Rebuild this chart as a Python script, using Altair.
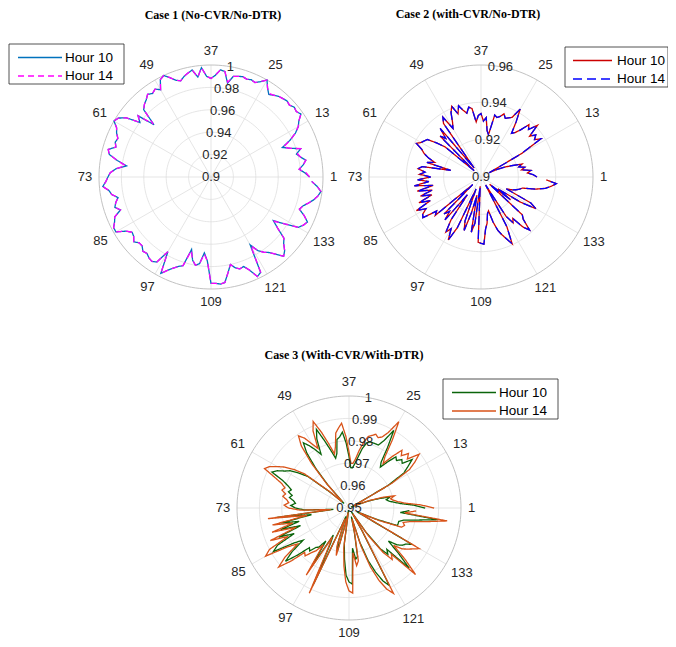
import altair as alt
import pandas as pd
import numpy as np

W, H = 660, 631
nodes = list(range(1, 145))
series_names = ["Hour 10", "Hour 14"]
theta_labels = ["1", "13", "25", "37", "49", "61", "73", "85", "97", "109", "121", "133"]
theta_degs = [0, 30, 60, 90, 120, 150, 180, 210, 240, 270, 300, 330]

c1_rticks = [0.9, 0.92, 0.94, 0.96, 0.98, 1.0]
c1_rlabels = ["0.9", "0.92", "0.94", "0.96", "0.98", "1"]
c2_rticks = [0.9, 0.92, 0.94, 0.96]
c2_rlabels = ["0.9", "0.92", "0.94", "0.96"]
c3_rticks = [0.95, 0.96, 0.97, 0.98, 0.99, 1.0]
c3_rlabels = ["0.95", "0.96", "0.97", "0.98", "0.99", "1"]

titles = ["Case 1 (No-CVR/No-DTR)", "Case 2 (with-CVR/No-DTR)", "Case 3 (With-CVR/With-DTR)"]

case1_h10 = [
0.988, 0.984, 0.979, 0.983, 0.986, 0.982, 0.979, 0.984, 0.975, 0.969, 0.978, 0.985,
0.990, 0.993, 0.998, 0.996, 0.997, 0.995, 0.996, 0.995, 0.994, 0.992, 0.990, 0.994,
1.000, 0.996, 0.993, 0.994, 0.993, 0.994, 0.993, 0.992, 0.985, 0.995, 0.996, 0.991,
0.988, 0.990, 0.998, 0.990, 0.997, 0.995, 0.993, 0.990, 0.992, 0.996, 1.000, 0.998,
0.990, 0.993, 0.991, 0.993, 0.990, 0.988, 0.985, 0.969, 0.985, 0.980, 0.992, 0.998,
1.000, 0.995, 0.993, 0.990, 0.991, 0.989, 0.995, 0.993, 0.985, 0.976, 0.985, 0.990,
0.992, 0.994, 0.997, 0.992, 0.990, 0.985, 0.988, 0.990, 0.986, 0.993, 0.995, 0.998,
0.998, 0.990, 0.986, 0.987, 0.990, 0.987, 0.987, 0.990, 0.989, 0.991, 0.992, 0.990,
0.977, 0.997, 0.992, 0.988, 0.985, 0.983, 0.967, 0.976, 0.980, 0.978, 0.968, 0.975,
0.995, 0.995, 0.996, 0.995, 0.987, 0.980, 0.984, 0.986, 0.985, 0.990, 0.998, 0.996,
0.970, 0.978, 0.982, 0.985, 0.990, 0.996, 0.993, 0.988, 0.985, 0.975, 0.968, 0.978,
0.990, 0.993, 0.995, 0.990, 0.984, 0.986, 0.990, 0.994, 0.997, 0.999, 0.995, 0.990]

case1_h14 = [
0.988, 0.985, 0.979, 0.983, 0.986, 0.982, 0.980, 0.984, 0.975, 0.970, 0.978, 0.985,
0.990, 0.993, 0.998, 0.996, 0.997, 0.995, 0.996, 0.995, 0.994, 0.992, 0.991, 0.994,
1.000, 0.996, 0.993, 0.994, 0.993, 0.994, 0.993, 0.992, 0.986, 0.995, 0.996, 0.991,
0.988, 0.990, 0.998, 0.990, 0.997, 0.995, 0.993, 0.990, 0.992, 0.996, 1.000, 0.998,
0.990, 0.993, 0.991, 0.993, 0.990, 0.988, 0.985, 0.970, 0.985, 0.980, 0.992, 0.998,
1.000, 0.995, 0.993, 0.990, 0.991, 0.989, 0.995, 0.993, 0.985, 0.977, 0.985, 0.990,
0.992, 0.994, 0.997, 0.992, 0.990, 0.985, 0.988, 0.990, 0.986, 0.993, 0.995, 0.998,
0.998, 0.990, 0.986, 0.987, 0.990, 0.987, 0.987, 0.990, 0.989, 0.991, 0.992, 0.990,
0.977, 0.997, 0.992, 0.988, 0.985, 0.983, 0.968, 0.976, 0.980, 0.978, 0.969, 0.975,
0.995, 0.995, 0.996, 0.995, 0.987, 0.980, 0.984, 0.986, 0.985, 0.990, 0.998, 0.996,
0.971, 0.978, 0.982, 0.985, 0.990, 0.996, 0.993, 0.988, 0.985, 0.975, 0.969, 0.978,
0.990, 0.993, 0.995, 0.990, 0.984, 0.986, 0.990, 0.994, 0.997, 0.999, 0.995, 0.990]

case2_h10 = [
0.930, 0.928, 0.925, 0.927, 0.922, 0.924, 0.921, 0.923, 0.918, 0.914, 0.910, 0.905,
0.925, 0.938, 0.935, 0.937, 0.934, 0.941, 0.936, 0.938, 0.933, 0.930, 0.9285, 0.935,
0.942, 0.936, 0.935, 0.934, 0.936, 0.934, 0.933, 0.934, 0.923, 0.925, 0.932, 0.930,
0.934, 0.933, 0.9296, 0.937, 0.938, 0.935, 0.937, 0.940, 0.936, 0.941, 0.938, 0.933,
0.930, 0.938, 0.935, 0.906, 0.934, 0.928, 0.931, 0.905, 0.925, 0.930, 0.935, 0.936,
0.937, 0.939, 0.935, 0.933, 0.930, 0.926, 0.930, 0.9166, 0.932, 0.934, 0.930, 0.933,
0.927, 0.934, 0.928, 0.936, 0.926, 0.935, 0.927, 0.934, 0.928, 0.936, 0.930, 0.939,
0.934, 0.937, 0.938, 0.930, 0.932, 0.906, 0.928, 0.925, 0.930, 0.912, 0.928, 0.935,
0.932, 0.938, 0.930, 0.907, 0.925, 0.930, 0.920, 0.910, 0.930, 0.925, 0.905, 0.935,
0.9355, 0.936, 0.928, 0.925, 0.920, 0.9186, 0.925, 0.930, 0.933, 0.936, 0.9395, 0.930,
0.905, 0.925, 0.930, 0.928, 0.935, 0.9385, 0.932, 0.930, 0.906, 0.920, 0.911, 0.925,
0.934, 0.930, 0.915, 0.918, 0.920, 0.9216, 0.923, 0.930, 0.935, 0.938, 0.9405, 0.935]

case2_h14 = [
0.930, 0.928, 0.925, 0.927, 0.922, 0.924, 0.921, 0.923, 0.918, 0.914, 0.910, 0.905,
0.925, 0.938, 0.935, 0.937, 0.934, 0.941, 0.936, 0.938, 0.933, 0.930, 0.9285, 0.935,
0.942, 0.936, 0.935, 0.934, 0.936, 0.934, 0.933, 0.934, 0.923, 0.925, 0.932, 0.930,
0.934, 0.933, 0.9296, 0.937, 0.938, 0.935, 0.937, 0.940, 0.936, 0.941, 0.938, 0.933,
0.930, 0.938, 0.935, 0.906, 0.934, 0.928, 0.931, 0.905, 0.925, 0.930, 0.935, 0.936,
0.937, 0.939, 0.935, 0.933, 0.930, 0.926, 0.930, 0.9166, 0.932, 0.934, 0.930, 0.933,
0.927, 0.934, 0.928, 0.936, 0.926, 0.935, 0.927, 0.934, 0.928, 0.936, 0.930, 0.939,
0.934, 0.937, 0.938, 0.930, 0.932, 0.906, 0.928, 0.925, 0.930, 0.912, 0.928, 0.935,
0.932, 0.938, 0.930, 0.907, 0.925, 0.930, 0.920, 0.910, 0.930, 0.925, 0.905, 0.935,
0.9355, 0.936, 0.928, 0.925, 0.920, 0.9186, 0.925, 0.930, 0.933, 0.936, 0.9395, 0.930,
0.905, 0.925, 0.930, 0.928, 0.935, 0.9385, 0.932, 0.930, 0.906, 0.920, 0.911, 0.925,
0.934, 0.930, 0.915, 0.918, 0.920, 0.9216, 0.923, 0.930, 0.935, 0.938, 0.9405, 0.935]

case3_h10 = [
0.984, 0.979, 0.973, 0.970, 0.968, 0.967, 0.969, 0.964, 0.959, 0.952, 0.951, 0.954,
0.970, 0.979, 0.982, 0.9855, 0.981, 0.982, 0.980, 0.981, 0.977, 0.973, 0.975, 0.982,
0.990, 0.984, 0.981, 0.981, 0.981, 0.981, 0.980, 0.977, 0.973, 0.970, 0.968, 0.968,
0.973, 0.979, 0.984, 0.982, 0.981, 0.975, 0.973, 0.977, 0.982, 0.988, 0.984, 0.977,
0.980, 0.983, 0.9855, 0.981, 0.973, 0.964, 0.955, 0.953, 0.961, 0.973, 0.977, 0.981,
0.983, 0.986, 0.988, 0.982, 0.979, 0.977, 0.978, 0.976, 0.977, 0.975, 0.974, 0.976,
0.974, 0.970, 0.957, 0.9825, 0.967, 0.981, 0.973, 0.982, 0.973, 0.984, 0.977, 0.986,
0.989, 0.979, 0.975, 0.982, 0.987, 0.981, 0.975, 0.976, 0.973, 0.972, 0.968, 0.9815,
0.964, 0.968, 0.988, 0.959, 0.954, 0.966, 0.970, 0.957, 0.951, 0.966, 0.973, 0.980,
0.983, 0.984, 0.968, 0.973, 0.972, 0.961, 0.954, 0.966, 0.975, 0.981, 0.986, 0.989,
0.961, 0.952, 0.963, 0.973, 0.977, 0.975, 0.988, 0.980, 0.973, 0.977, 0.979, 0.980,
0.9825, 0.957, 0.954, 0.963, 0.973, 0.973, 0.973, 0.975, 0.981, 0.990, 0.973, 0.977]

case3_h14 = [
0.988, 0.982, 0.975, 0.972, 0.970, 0.969, 0.971, 0.966, 0.960, 0.953, 0.952, 0.955,
0.972, 0.982, 0.986, 0.9895, 0.984, 0.986, 0.983, 0.985, 0.980, 0.975, 0.978, 0.986,
0.9945, 0.988, 0.985, 0.984, 0.985, 0.984, 0.983, 0.980, 0.976, 0.972, 0.970, 0.970,
0.975, 0.982, 0.988, 0.986, 0.984, 0.978, 0.975, 0.980, 0.986, 0.9918, 0.988, 0.980,
0.983, 0.987, 0.9893, 0.985, 0.976, 0.965, 0.956, 0.954, 0.962, 0.975, 0.980, 0.984,
0.987, 0.990, 0.9916, 0.986, 0.982, 0.980, 0.981, 0.979, 0.980, 0.978, 0.977, 0.979,
0.977, 0.972, 0.958, 0.9865, 0.969, 0.985, 0.976, 0.986, 0.975, 0.988, 0.980, 0.990,
0.993, 0.982, 0.978, 0.986, 0.991, 0.985, 0.978, 0.979, 0.976, 0.974, 0.970, 0.9855,
0.965, 0.970, 0.992, 0.960, 0.955, 0.968, 0.972, 0.958, 0.952, 0.968, 0.976, 0.983,
0.987, 0.988, 0.970, 0.976, 0.974, 0.962, 0.955, 0.968, 0.978, 0.985, 0.990, 0.993,
0.962, 0.953, 0.965, 0.975, 0.980, 0.978, 0.992, 0.984, 0.976, 0.980, 0.982, 0.984,
0.9863, 0.958, 0.955, 0.965, 0.975, 0.976, 0.975, 0.978, 0.985, 0.9942, 0.975, 0.980]

series_keys = ["1|Hour 10", "1|Hour 14", "2|Hour 10", "2|Hour 14", "3|Hour 10", "3|Hour 14"]
series_colors = ["#0072BD", "#FF00FF", "#CC0000", "#0000FF", "#0A640A", "#D95319"]
series_dashes = [[1, 0], [6, 4], [1, 0], [9, 5], [1, 0], [1, 0]]
series_widths = [1.3, 1.3, 1.6, 2.0, 1.4, 1.4]

# ---- layout (pixel canvas) ----
panels = pd.DataFrame({
    "panel": [1, 2, 3],
    "cx": [203.0, 473.0, 341.0],
    "cy": [169.0, 169.0, 500.0],
    "R": [112.0, 112.0, 112.0],
    "r0": [0.9, 0.9, 0.95],
    "r1": [1.0, 0.96, 1.0],
    # legend box layout
    "bx": [1.0, 557.0, 435.0],
    "by": [36.0, 39.0, 371.0],
    "bw": [115.0, 103.0, 115.0],
    "bh": [40.0, 40.0, 40.0],
    "sx0": [10.0, 565.0, 444.0],
    "sx1": [54.0, 604.0, 488.0],
    "tx": [57.0, 609.0, 491.0],
})

rows = []
for p, s, vals in [(1, "Hour 10", case1_h10), (1, "Hour 14", case1_h14),
                   (2, "Hour 10", case2_h10), (2, "Hour 14", case2_h14),
                   (3, "Hour 10", case3_h10), (3, "Hour 14", case3_h14)]:
    for n, v in zip(nodes, vals):
        rows.append({"panel": p, "series": s, "key": f"{p}|{s}", "node": n, "value": v})
lines = pd.DataFrame(rows).merge(panels, on="panel")

ring_rows = []
for p, ticks in [(1, c1_rticks), (2, c2_rticks), (3, c3_rticks)]:
    for k, tv in enumerate(ticks[1:]):
        outer = (k == len(ticks) - 2)
        for d in range(0, 361, 2):
            ring_rows.append({"panel": p, "ring": tv, "rkey": f"{p}-{tv}", "deg": d, "outer": outer})
rings = pd.DataFrame(ring_rows).merge(panels, on="panel")

spokes = pd.DataFrame([{"panel": p, "deg": d} for p in [1, 2, 3] for d in theta_degs]).merge(panels, on="panel")
tlabels = pd.DataFrame([{"panel": p, "deg": d, "label": l} for p in [1, 2, 3]
                        for d, l in zip(theta_degs, theta_labels)]).merge(panels, on="panel")

rl_rows = []
for p, ticks, labs in [(1, c1_rticks, c1_rlabels), (2, c2_rticks, c2_rlabels), (3, c3_rticks, c3_rlabels)]:
    for tv, lb in zip(ticks, labs):
        rl_rows.append({"panel": p, "tick": tv, "label": lb})
rlabels = pd.DataFrame(rl_rows).merge(panels, on="panel")

leg = pd.DataFrame([{"panel": p, "row": i, "series": s, "key": f"{p}|{s}"}
                    for p in [1, 2, 3] for i, s in enumerate(series_names)]).merge(panels, on="panel")
legbox = panels.copy()

title_df = pd.DataFrame({"title": titles, "tx": [205, 460, 336], "ty": [10.5, 10, 351]})

xs = alt.Scale(domain=[0, W], nice=False, zero=False)
ys = alt.Scale(domain=[0, H], nice=False, zero=False, reverse=True)
X = lambda f: alt.X(f, type="quantitative", scale=xs, axis=None)
Y = lambda f: alt.Y(f, type="quantitative", scale=ys, axis=None)
col_enc = alt.Color("key:N", scale=alt.Scale(domain=series_keys, range=series_colors), legend=None)
dash_enc = alt.StrokeDash("key:N", scale=alt.Scale(domain=series_keys, range=series_dashes), legend=None)
wid_enc = alt.StrokeWidth("key:N", scale=alt.Scale(domain=series_keys, range=series_widths), legend=None)

ring_inner = alt.Chart(rings).transform_filter("!datum.outer").transform_calculate(
    t="datum.deg * PI / 180",
    rr="datum.R * (datum.ring - datum.r0) / (datum.r1 - datum.r0)",
    px="datum.cx + datum.rr * cos(datum.t)",
    py="datum.cy - datum.rr * sin(datum.t)",
).mark_line(color="#dedede", strokeWidth=0.8).encode(
    x=X("px"), y=Y("py"), detail="rkey:N", order="deg:Q")

ring_outer = alt.Chart(rings).transform_filter("datum.outer").transform_calculate(
    t="datum.deg * PI / 180",
    px="datum.cx + datum.R * cos(datum.t)",
    py="datum.cy - datum.R * sin(datum.t)",
).mark_line(color="#c2c2c2", strokeWidth=1).encode(
    x=X("px"), y=Y("py"), detail="rkey:N", order="deg:Q")

spoke_layer = alt.Chart(spokes).transform_calculate(
    t="datum.deg * PI / 180",
    ex="datum.cx + datum.R * cos(datum.t)",
    ey="datum.cy - datum.R * sin(datum.t)",
).mark_rule(color="#dedede", strokeWidth=0.8).encode(
    x=X("cx"), y=Y("cy"), x2="ex:Q", y2="ey:Q")


def line_layer(key):
    return alt.Chart(lines[lines.key == key]).transform_calculate(
        t="(datum.node - 1) * 2.5 * PI / 180",
        rr="datum.R * max(0, datum.value - datum.r0) / (datum.r1 - datum.r0)",
        px="datum.cx + datum.rr * cos(datum.t)",
        py="datum.cy - datum.rr * sin(datum.t)",
    ).mark_line(strokeJoin="miter").encode(
        x=X("px"), y=Y("py"), color=col_enc, strokeDash=dash_enc, strokeWidth=wid_enc, order="node:Q")


line_layers = [line_layer(k) for k in series_keys]

theta_text = alt.Chart(tlabels).transform_calculate(
    t="datum.deg * PI / 180",
    lr="datum.R + 7.5 + (sin(datum.t) > 0 ? 7 : 5) * abs(sin(datum.t)) + 3.2 * length(datum.label) * abs(cos(datum.t))",
    lx="datum.cx + datum.lr * cos(datum.t)",
    ly="datum.cy - datum.lr * sin(datum.t)",
).mark_text(font="Liberation Sans", fontSize=13, color="#262626", align="center", baseline="middle").encode(
    x=X("lx"), y=Y("ly"), text="label:N")

r_text = alt.Chart(rlabels).transform_calculate(
    rr="datum.R * (datum.tick - datum.r0) / (datum.r1 - datum.r0)",
    lx="datum.cx + datum.rr * cos(80 * PI / 180)",
    ly="datum.cy - datum.rr * sin(80 * PI / 180)",
).mark_text(font="Liberation Sans", fontSize=13, color="#262626", align="center", baseline="middle").encode(
    x=X("lx"), y=Y("ly"), text="label:N")

title_text = alt.Chart(title_df).mark_text(font="Liberation Serif", fontSize=12, fontWeight="bold",
                                           color="black", align="center", baseline="alphabetic").encode(
    x=X("tx"), y=Y("ty"), text="title:N")

leg_box = alt.Chart(legbox).transform_calculate(
    bx2="datum.bx + datum.bw", by2="datum.by + datum.bh"
).mark_rect(fill="white", stroke="#262626", strokeWidth=0.8).encode(
    x=X("bx"), x2="bx2:Q", y=Y("by"), y2="by2:Q")

leg_lines = alt.Chart(leg).transform_calculate(
    ly="datum.by + 13.5 + 18.5 * datum.row"
).mark_rule().encode(
    x=X("sx0"), x2="sx1:Q", y=Y("ly"), color=col_enc, strokeDash=dash_enc, strokeWidth=wid_enc)

leg_text = alt.Chart(leg).transform_calculate(
    ly="datum.by + 13.5 + 18.5 * datum.row"
).mark_text(font="Liberation Sans", fontSize=13.5, color="black", align="left", baseline="middle").encode(
    x=X("tx"), y=Y("ly"), text="series:N")

chart = alt.layer(
    ring_inner, spoke_layer, ring_outer, *line_layers, theta_text, r_text, title_text,
    leg_box, leg_lines, leg_text
).properties(
    width=W, height=H, autosize=alt.AutoSizeParams(type="none"), padding=0
).configure_view(stroke=None)

chart.save("out.html", embed_options={"renderer": "svg", "actions": False})
